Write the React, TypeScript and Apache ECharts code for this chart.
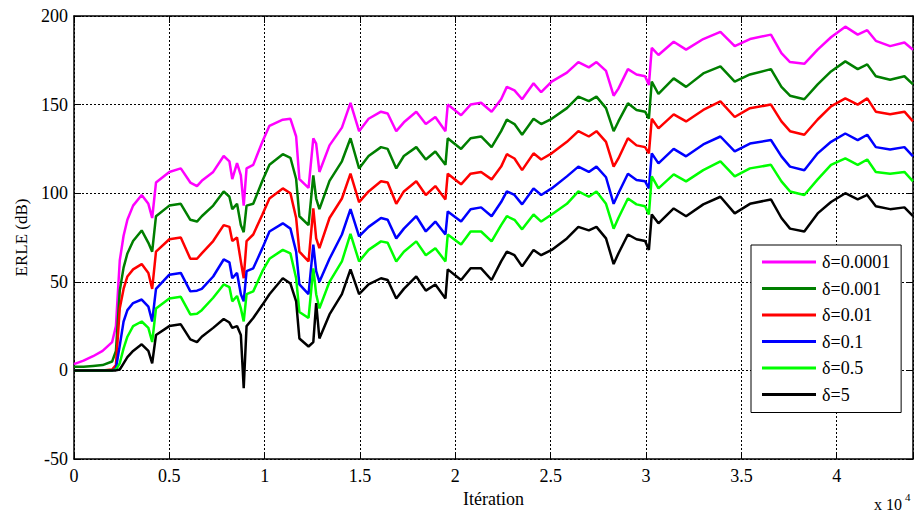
import React, { useEffect, useRef } from "react";
import * as echarts from "echarts";

// Iteration index of each sample
const X = [
  0, 500, 1000, 1500, 2000, 2200, 2400, 2600, 2800, 3100,
  3550, 3900, 4100, 4300, 5000, 5600, 6100, 6450, 6700, 7300,
  7850, 8150, 8300, 8550, 8750, 8900, 9050, 9400, 9880, 10250,
  10950, 11350, 11650, 11820, 12300, 12550, 12700, 12870, 13400, 14050,
  14500, 14950, 15450, 16100, 16450, 16900, 17300, 17950, 18450, 18950,
  19480, 19600, 20300, 20800, 21350, 21900, 22400, 22700, 23100, 23500,
  24100, 24500, 25050, 25850, 26450, 27000, 27400, 27900, 28300, 28550,
  29050, 29500, 29950, 30150, 30300, 30650, 31450, 32100, 33000, 33900,
  34650, 35450, 36550, 37100, 37550, 38300, 39000, 39700, 40450, 41100,
  41600, 42050, 42800, 43550, 44000,
];

// ERLE (dB) for each regularisation parameter delta
const ERLE_D00001 = [
  3.5, 5.5, 8, 11, 16, 25, 62, 76, 85, 93,
  99, 94, 86, 106, 112, 114, 106, 104, 107, 112,
  121, 118, 108, 117, 110, 93, 114, 116, 129, 138,
  141.5, 142, 132, 108, 103, 131, 128, 112, 127, 137,
  151, 135, 142, 146, 145, 135, 140, 146, 139, 143,
  135, 150, 144, 150, 151, 146, 153, 160, 158, 153,
  162, 157, 163, 168, 174, 171, 174, 169, 155, 159,
  170, 167, 166, 161, 182, 178, 185.5, 181, 187, 191,
  183, 187, 189.5, 179, 174, 173, 181, 188, 194, 189.5,
  192, 186, 183, 185, 181,
];
const ERLE_D0001 = [
  2, 2, 2.5, 3, 5, 11, 45, 58, 66, 73,
  79, 72, 67, 87, 93, 94, 85, 84, 87, 93,
  101, 98, 91, 94, 82, 78, 93, 94, 107, 116,
  122, 120, 108, 87, 82, 110, 97, 91, 107, 118,
  131, 114, 121, 126, 125, 114, 121, 126, 119, 123.5,
  116, 131, 125, 131, 132, 126, 135, 141.5, 139, 133,
  142, 139, 142, 148, 154.5, 152, 154.5, 148, 135, 140.5,
  150.7, 147, 146, 142, 163, 156, 164.8, 160, 167.6, 171.6,
  163, 167, 170, 160, 155, 153, 161.4, 168.7, 174.4, 170,
  172.7, 166, 164, 166, 161.4,
];
const ERLE_D001 = [
  0, 0, 0, 0, 0.5, 3, 35, 46, 53, 57,
  60, 55, 46, 67, 74, 75, 63, 63, 66, 73,
  82, 81, 73, 75, 61.5, 52, 73, 76.7, 88, 97,
  102.7, 100, 86, 67, 61.5, 91.4, 74.5, 69, 86, 97,
  111, 95, 101, 106.7, 106, 94, 101, 106.7, 99, 104,
  96.5, 111, 105, 111, 112, 107.8, 115, 122, 119.6, 113,
  122.5, 119, 122.5, 129, 135, 132, 135, 129, 115, 119.6,
  131, 127, 126, 122.5, 142, 136.6, 144.5, 140.5, 147, 151.8,
  143, 148, 150, 140.5, 135, 133, 141.6, 149, 153.5, 150,
  153.5, 146, 144.5, 146, 140.5,
];
const ERLE_D01 = [
  0, 0, 0, 0, 0, 1, 14, 27.6, 34, 38,
  40, 36, 27.6, 46, 54, 55, 44.6, 45, 46, 53,
  62.6, 61, 52, 55, 43, 39, 56, 57.6, 69, 78.4,
  83, 80, 67, 48.5, 43, 71, 56, 50, 63, 76.7,
  91, 75.6, 81, 86, 85, 74.5, 80, 87, 78.4, 84,
  76.7, 89.7, 84, 91, 92, 87, 95, 101, 99, 93.7,
  102.7, 99, 102.7, 109.5, 115, 112, 115, 109, 94, 100,
  111, 107.5, 106.7, 102.7, 122.5, 116.8, 125, 120.8, 127.5, 132,
  123.6, 128, 130, 120.8, 115, 113, 122.5, 129, 133.7, 130,
  133, 126, 124.7, 126, 120.8,
];
const ERLE_D05 = [
  0, 0, 0, 0, 0, 0.5, 4, 12.4, 19, 25,
  27.6, 24, 16, 35, 40.6, 41.5, 31.6, 32, 34, 41,
  48.5, 47, 39, 42, 35, 27.6, 43, 44.6, 56, 63,
  68, 66, 52, 33, 29.6, 57.6, 43, 35, 50, 61.5,
  77, 61.5, 68, 72.8, 72, 61.5, 67, 72.8, 65, 69,
  61.5, 76.7, 71, 78.4, 78.4, 72.8, 82, 87, 85, 79.6,
  88, 84, 88, 94, 101, 98, 101, 94, 80, 86,
  97, 93.7, 92.6, 88, 109.5, 102.7, 110.6, 106.7, 113, 118,
  109.5, 114, 116, 106.7, 101, 99, 107.8, 116, 119.6, 116,
  119, 112, 111, 112, 106.7,
];
const ERLE_D5 = [
  0, 0, 0, 0, 0, 0, 0.5, 4, 7.5, 11,
  14.7, 11, 4, 20, 25, 26, 17.5, 16, 19, 24,
  29, 27, 24, 25, 20, -10, 25, 29.6, 37, 43,
  52, 49, 39, 18, 13.5, 16, 38, 18, 31.6, 43,
  57, 43, 48.5, 52, 51, 40.6, 46, 53, 45, 48.5,
  40.6, 57, 51, 57.6, 57.6, 51, 61.5, 67, 65, 58.7,
  68, 65, 68, 74.5, 81, 79, 81, 74.5, 60, 66,
  76.7, 74, 73, 68, 88, 83, 91.4, 87, 93.7, 98,
  88.6, 94, 96.5, 86, 80, 78.4, 88.6, 95, 100, 96.5,
  99, 92.6, 91, 92, 87,
];

const SERIES_NAMES = ["δ=0.0001", "δ=0.001", "δ=0.01", "δ=0.1", "δ=0.5", "δ=5"];
const SERIES_VALUES = [ERLE_D00001, ERLE_D0001, ERLE_D001, ERLE_D01, ERLE_D05, ERLE_D5];
const SERIES_COLORS = ["#ff00ff", "#007f00", "#ff0000", "#0000ff", "#00ff00", "#000000"];

const X_MIN = 0;
const X_MAX = 44000;
const X_STEP = 5000;
const Y_MIN = -50;
const Y_MAX = 200;
const Y_STEP = 50;

const FONT = "'Liberation Serif', 'Times New Roman', serif";

export default function App() {
  const ref = useRef<HTMLDivElement>(null);

  useEffect(() => {
    if (!ref.current) return;
    const chart = echarts.init(ref.current, undefined, { renderer: "svg" });

    const axisLine = { show: true, onZero: false, lineStyle: { color: "#000", width: 1.5 } };
    const axisTick = { show: true, inside: true, length: 7, lineStyle: { color: "#000", width: 1 } };
    const gridLine = { show: true, lineStyle: { color: "#000", width: 1, type: [2, 2] as number[] } };
    const labelStyle = { color: "#000", fontFamily: FONT, fontSize: 18 };

    chart.setOption({
      animation: false,
      backgroundColor: "#fff",
      grid: { left: 74, right: 1, top: 16, bottom: 56, containLabel: false },
      xAxis: [
        {
          type: "value",
          min: X_MIN,
          max: X_MAX,
          interval: X_STEP,
          position: "bottom",
          axisLine,
          axisTick,
          splitLine: gridLine,
          axisLabel: {
            ...labelStyle,
            margin: 8,
            formatter: (v: number) => (v % X_STEP === 0 ? String(v / 10000) : ""),
          },
          name: "Itération",
          nameLocation: "middle",
          nameGap: 30,
          nameTextStyle: { ...labelStyle },
        },
        {
          type: "value",
          min: X_MIN,
          max: X_MAX,
          interval: X_STEP,
          position: "top",
          axisLine,
          axisTick,
          axisLabel: { show: false },
          splitLine: { show: false },
        },
      ],
      yAxis: [
        {
          type: "value",
          min: Y_MIN,
          max: Y_MAX,
          interval: Y_STEP,
          position: "left",
          axisLine,
          axisTick,
          splitLine: gridLine,
          axisLabel: { ...labelStyle, margin: 6 },
          name: "ERLE (dB)",
          nameLocation: "middle",
          nameGap: 44,
          nameTextStyle: { ...labelStyle, fontSize: 17 },
        },
        {
          type: "value",
          min: Y_MIN,
          max: Y_MAX,
          interval: Y_STEP,
          position: "right",
          axisLine,
          axisTick,
          axisLabel: { show: false },
          splitLine: { show: false },
        },
      ],
      legend: {
        orient: "vertical",
        left: 751,
        top: 245,
        data: SERIES_NAMES,
        icon: "rect",
        itemWidth: 54,
        itemHeight: 3,
        itemGap: 6.5,
        padding: [7, 11, 8, 11],
        backgroundColor: "#fff",
        borderColor: "#000",
        borderWidth: 1,
        borderRadius: 0,
        selectedMode: false,
        textStyle: { ...labelStyle, lineHeight: 20, padding: [0, 0, 0, 1] },
      },
      graphic: [
        {
          type: "text",
          left: 874,
          top: 496,
          style: { text: "x 10", font: `16px ${FONT}`, fill: "#000" },
        },
        {
          type: "text",
          left: 905,
          top: 491,
          style: { text: "4", font: `11px ${FONT}`, fill: "#000" },
        },
      ],
      series: SERIES_NAMES.map((name, i) => ({
        name,
        type: "line",
        xAxisIndex: 0,
        yAxisIndex: 0,
        showSymbol: false,
        symbol: "none",
        lineStyle: { color: SERIES_COLORS[i], width: 2.5 },
        itemStyle: { color: SERIES_COLORS[i] },
        data: X.map((x, k) => [x, SERIES_VALUES[i][k]]),
      })),
    });

    return () => chart.dispose();
  }, []);

  return (
    <div
      ref={ref}
      style={{ position: "fixed", left: 0, top: 0, width: 916, height: 515, background: "#fff" }}
    />
  );
}
